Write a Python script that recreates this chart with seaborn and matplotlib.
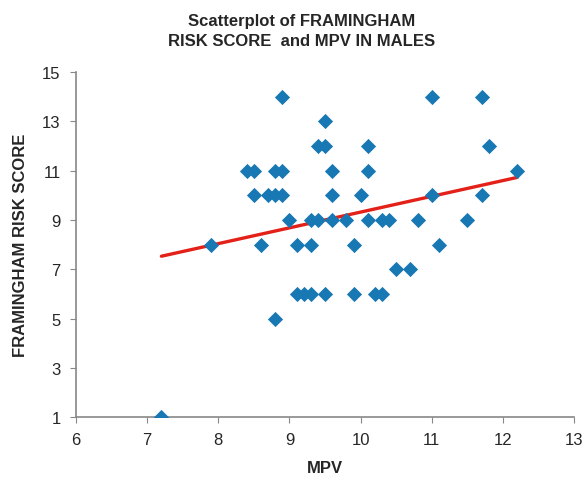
import matplotlib
matplotlib.use("Agg")
import matplotlib.pyplot as plt
import seaborn as sns
import numpy as np
import pandas as pd

mpv = [8.9, 9.5, 9.4, 9.5, 8.4, 8.5, 8.8, 8.9, 9.6,
       8.5, 8.7, 8.8, 8.9, 9.6, 10.0,
       9.0, 9.3, 9.4, 9.6, 9.8,
       7.9, 8.6, 9.1, 9.3, 9.9,
       9.1, 9.2, 9.3, 9.5, 9.9,
       8.8,
       11.0, 11.7, 10.1, 11.8, 10.1, 12.2, 11.0, 11.7,
       10.1, 10.3, 10.4, 10.8, 11.5,
       11.1, 10.5, 10.7, 10.2, 10.3, 7.2]
risk = [14, 13, 12, 12, 11, 11, 11, 11, 11,
        10, 10, 10, 10, 10, 10,
        9, 9, 9, 9, 9,
        8, 8, 8, 8, 8,
        6, 6, 6, 6, 6,
        5,
        14, 14, 12, 12, 11, 11, 10, 10,
        9, 9, 9, 9, 9,
        8, 7, 7, 6, 6, 1]

# fitted trend line (endpoints)
fit_x = [7.2, 12.2]
fit_y = [7.53, 10.73]

x_ticks = [6, 7, 8, 9, 10, 11, 12, 13]
y_ticks = [1, 3, 5, 7, 9, 11, 13, 15]

df = pd.DataFrame({"MPV": mpv, "RISK": risk})
fit = pd.DataFrame({"MPV": fit_x, "RISK": fit_y})

sns.set_style("white")
plt.rcParams['font.family'] = ['Liberation Sans', 'DejaVu Sans']

fig = plt.figure(figsize=(5.87, 4.85), dpi=100)
ax = fig.add_axes([0.1295, 0.138, 0.8485, 0.711])

sns.lineplot(data=fit, x="MPV", y="RISK", ax=ax, color="#E32119", lw=2.4, zorder=2)
sns.scatterplot(data=df, x="MPV", y="RISK", ax=ax, marker="D", s=60,
                color="#1878B4", linewidth=0, zorder=3)

ax.set_xlim(6, 13)
ax.set_ylim(1, 15)
ax.set_xticks(x_ticks)
ax.set_yticks(y_ticks)
ax.tick_params(axis="both", labelsize=12, length=4, color="#888888",
               direction="out", left=True, bottom=True, pad=7)
for side in ["top", "right"]:
    ax.spines[side].set_visible(False)
for side in ["left", "bottom"]:
    ax.spines[side].set_color("#888888")
    ax.spines[side].set_linewidth(1.2)

ax.set_xlabel("MPV", fontsize=12, fontweight="bold", labelpad=9)
ax.set_ylabel("FRAMINGHAM RISK SCORE", fontsize=12, fontweight="bold", labelpad=10)
fig.text(0.514, 0.972, "Scatterplot of FRAMINGHAM\nRISK SCORE  and MPV IN MALES",
         fontsize=12, fontweight="bold", ha="center", va="top", linespacing=1.45)

fig.savefig("out.png", dpi=100)
